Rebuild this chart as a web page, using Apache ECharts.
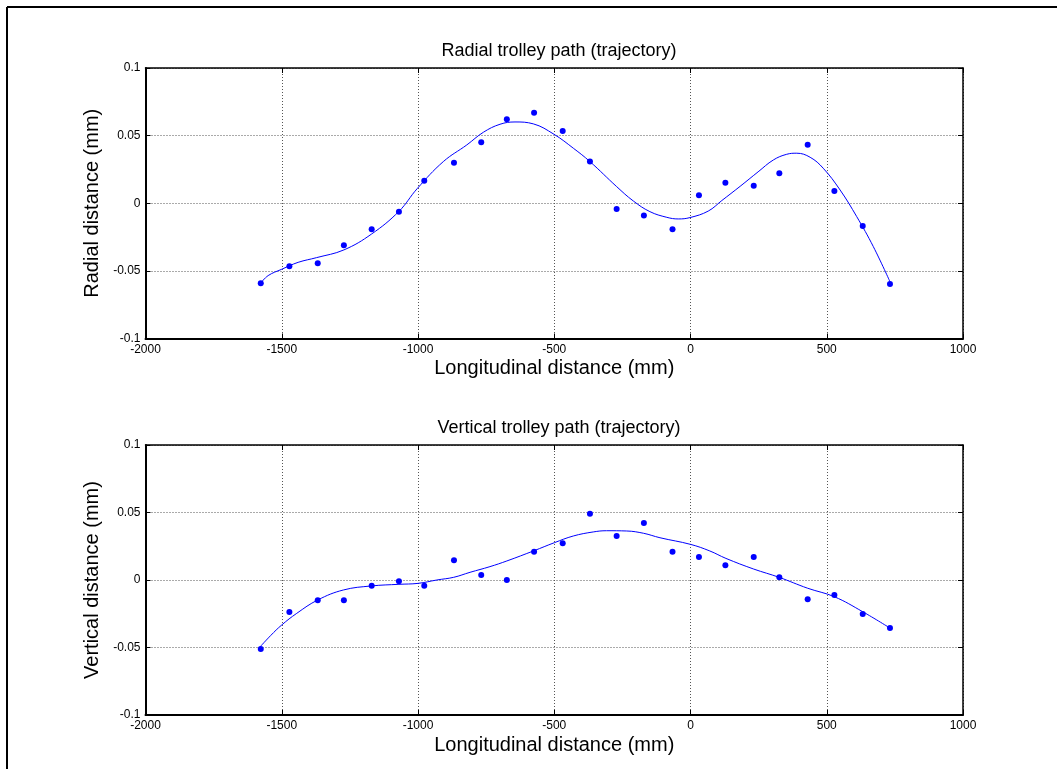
<!DOCTYPE html>
<html>
<head>
<meta charset="utf-8">
<script src="https://cdn.jsdelivr.net/npm/echarts@6/dist/echarts.min.js"></script>
<style>
  html, body { margin: 0; padding: 0; background: #fff; }
  #chart { width: 1057px; height: 769px; }
</style>
</head>
<body>
<div id="chart"></div>
<script>
// measured positions along the track (mm)
var xPos = [-1577, -1472, -1368, -1272, -1170, -1070, -977, -868, -768, -674, -574, -469,
            -369, -271, -171, -66, 31, 128, 232, 326, 430, 528, 632, 732];

// measured radial / vertical deviations (mm)
var radialPts = [-0.0592, -0.0466, -0.0444, -0.0311, -0.0192, -0.0062, 0.0167, 0.0300, 0.0451, 0.0621, 0.0670, 0.0535,
                 0.0308, -0.0042, -0.0090, -0.0192, 0.0059, 0.0152, 0.0129, 0.0222, 0.0433, 0.0091, -0.0168, -0.0597];
var verticalPts = [-0.0511, -0.0237, -0.0150, -0.0150, -0.0042, -0.0010, -0.0042, 0.0146, 0.0037, 0.0000, 0.0210, 0.0272,
                   0.0490, 0.0326, 0.0422, 0.0210, 0.0170, 0.0109, 0.0170, 0.0020, -0.0143, -0.0111, -0.0252, -0.0356];

// fitted curves
var radialFitX = [-1577, -1550, -1500, -1440, -1372, -1272, -1170, -1070, -1003, -907, -821, -760, -699, -644, -577,
                  -501, -430, -369, -271, -210, -149, -87, -45, -2, 65, 115, 182, 248, 304, 353, 390, 439, 487, 549,
                  610, 671, 732];
var radialFitY = [-0.0590, -0.0535, -0.0488, -0.0437, -0.0402, -0.0345, -0.0227, -0.0060, 0.0108, 0.0308, 0.0431, 0.0525,
                  0.0584, 0.0601, 0.0587, 0.0510, 0.0407, 0.0308, 0.0123, 0.0017, -0.0062, -0.0104, -0.0116, -0.0106,
                  -0.0058, 0.0020, 0.0125, 0.0232, 0.0320, 0.0362, 0.0370, 0.0340, 0.0259, 0.0098, -0.0099, -0.0321,
                  -0.0580];
var verticalFitX = [-1579, -1540, -1500, -1445, -1368, -1274, -1171, -1070, -1000, -931, -869, -809, -736, -674, -574,
                    -500, -430, -357, -308, -234, -172, -112, 0, 71, 130, 232, 325, 430, 528, 632, 732];
var verticalFitY = [-0.0494, -0.0410, -0.0333, -0.0247, -0.0148, -0.0074, -0.0044, -0.0032, -0.0025, 0.0000, 0.0020,
                    0.0057, 0.0099, 0.0141, 0.0217, 0.0276, 0.0326, 0.0356, 0.0365, 0.0363, 0.0346, 0.0313, 0.0264,
                    0.0215, 0.0160, 0.0081, 0.0020, -0.0061, -0.0124, -0.0235, -0.0356];

var xTickLabels = ['-2000', '-1500', '-1000', '-500', '0', '500', '1000'];
var yTickLabels = ['-0.1', '-0.05', '0', '0.05', '0.1'];

var titles = ['Radial trolley path (trajectory)', 'Vertical trolley path (trajectory)'];
var yNames = ['Radial distance (mm)', 'Vertical distance (mm)'];
var xName = 'Longitudinal distance (mm)';

function pairs(xs, ys) {
    return xs.map(function (x, i) { return [x, ys[i]]; });
}

var font = 'Liberation Sans, Arial, sans-serif';
var grids = [
    {left: 145.5, top: 68, width: 817.5, height: 270.5},
    {left: 145.5, top: 445, width: 817.5, height: 270}
];
var gridLine = {show: true, lineStyle: {color: '#555', type: [1, 2], width: 1}};

var xAxes = [], yAxes = [];
grids.forEach(function (g, i) {
    xAxes.push({
        type: 'value', gridIndex: i, min: -2000, max: 1000, interval: 500,
        name: xName, nameLocation: 'middle', nameGap: 20,
        nameTextStyle: {fontFamily: font, fontSize: 20, color: '#000'},
        axisLine: {onZero: false, lineStyle: {color: '#000', width: 2}},
        axisTick: {inside: true, length: 5, lineStyle: {color: '#000'}},
        axisLabel: {
            fontFamily: font, fontSize: 12, color: '#000', margin: 5,
            formatter: function (v) { return xTickLabels[Math.round((v + 2000) / 500)]; }
        },
        splitLine: gridLine
    });
    yAxes.push({
        type: 'value', gridIndex: i, min: -0.1, max: 0.1, interval: 0.05,
        name: yNames[i], nameLocation: 'middle', nameGap: 43,
        nameTextStyle: {fontFamily: font, fontSize: 20, color: '#000'},
        axisLine: {onZero: false, lineStyle: {color: '#000', width: 2}},
        axisTick: {inside: true, length: 5, lineStyle: {color: '#000'}},
        axisLabel: {
            fontFamily: font, fontSize: 12, color: '#000', margin: 5,
            formatter: function (v) { return yTickLabels[Math.round((v + 0.1) / 0.05)]; }
        },
        splitLine: gridLine
    });
});
// box edges (top / right) with inward ticks
grids.forEach(function (g, i) {
    xAxes.push({
        type: 'value', gridIndex: i, position: 'top', min: -2000, max: 1000, interval: 500,
        axisLine: {onZero: false, lineStyle: {color: '#000', width: 1.5}},
        axisTick: {inside: true, length: 5, lineStyle: {color: '#000'}},
        axisLabel: {show: false}, splitLine: {show: false}
    });
    yAxes.push({
        type: 'value', gridIndex: i, position: 'right', min: -0.1, max: 0.1, interval: 0.05,
        axisLine: {onZero: false, lineStyle: {color: '#000', width: 1.5}},
        axisTick: {inside: true, length: 5, lineStyle: {color: '#000'}},
        axisLabel: {show: false}, splitLine: {show: false}
    });
});

var myChart = echarts.init(document.getElementById('chart'), null, {renderer: 'canvas'});
myChart.setOption({
    animation: false,
    backgroundColor: '#fff',
    title: [
        {text: titles[0], left: 554, top: 37, textAlign: 'center',
            textStyle: {fontFamily: font, fontSize: 18, fontWeight: 'normal', color: '#000'}},
        {text: titles[1], left: 554, top: 414, textAlign: 'center',
            textStyle: {fontFamily: font, fontSize: 18, fontWeight: 'normal', color: '#000'}}
    ],
    graphic: [
        {type: 'line', shape: {x1: 7, y1: 7, x2: 1057, y2: 7}, style: {stroke: '#000', lineWidth: 2}},
        {type: 'line', shape: {x1: 7, y1: 7, x2: 7, y2: 769}, style: {stroke: '#000', lineWidth: 2}}
    ],
    grid: grids,
    xAxis: xAxes,
    yAxis: yAxes,
    series: [
        {type: 'line', xAxisIndex: 0, yAxisIndex: 0, data: pairs(radialFitX, radialFitY),
            smooth: 0.4, symbol: 'none', lineStyle: {color: '#0000ff', width: 1}},
        {type: 'scatter', xAxisIndex: 0, yAxisIndex: 0, data: pairs(xPos, radialPts),
            symbol: 'circle', symbolSize: 6, itemStyle: {color: '#0000ff', opacity: 1}},
        {type: 'line', xAxisIndex: 1, yAxisIndex: 1, data: pairs(verticalFitX, verticalFitY),
            smooth: 0.4, symbol: 'none', lineStyle: {color: '#0000ff', width: 1}},
        {type: 'scatter', xAxisIndex: 1, yAxisIndex: 1, data: pairs(xPos, verticalPts),
            symbol: 'circle', symbolSize: 6, itemStyle: {color: '#0000ff', opacity: 1}}
    ]
});
</script>
</body>
</html>
